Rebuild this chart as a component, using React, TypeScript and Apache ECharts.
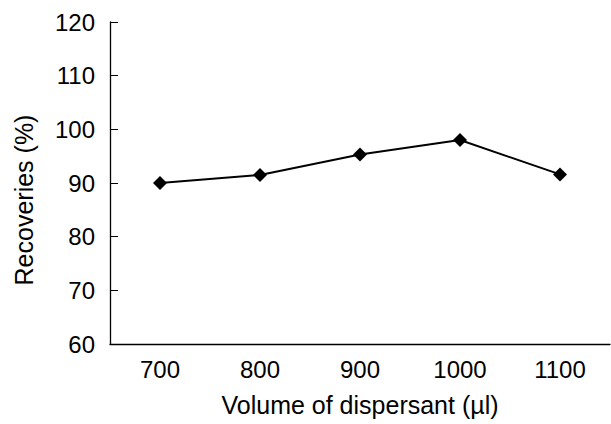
import React, { useEffect, useRef } from "react";
import * as echarts from "echarts";

const categories = ["700", "800", "900", "1000", "1100"];
const recoveries = [90.0, 91.5, 95.3, 98.0, 91.6];
const xName = "Volume of dispersant (µl)";
const yName = "Recoveries (%)";

export default function App() {
  const ref = useRef<HTMLDivElement>(null);
  useEffect(() => {
    if (!ref.current) return;
    const chart = echarts.init(ref.current, null, { renderer: "svg" });
    const font = "Liberation Sans, Arial, sans-serif";
    chart.setOption({
      animation: false,
      backgroundColor: "#fff",
      grid: { left: 110, right: 1, top: 22, bottom: 80, containLabel: false },
      xAxis: {
        type: "category",
        data: categories,
        boundaryGap: true,
        name: xName,
        nameLocation: "middle",
        nameGap: 48,
        nameTextStyle: { fontFamily: font, fontSize: 25, color: "#000" },
        axisLine: { lineStyle: { color: "#000", width: 1.3 } },
        axisTick: { inside: true, length: 8, alignWithLabel: false, lineStyle: { color: "#000" } },
        axisLabel: { fontFamily: font, fontSize: 24, color: "#000", margin: 13 },
        splitLine: { show: false },
      },
      yAxis: {
        type: "value",
        min: 60,
        max: 120,
        interval: 10,
        name: yName,
        nameLocation: "middle",
        nameGap: 74,
        nameRotate: 90,
        nameTextStyle: { fontFamily: font, fontSize: 25, color: "#000", padding: [0, 34, 0, 0] },
        axisLine: { show: true, lineStyle: { color: "#000", width: 1.3 } },
        axisTick: { show: true, inside: true, length: 8, lineStyle: { color: "#000" } },
        axisLabel: { fontFamily: font, fontSize: 24, color: "#000", margin: 15 },
        splitLine: { show: false },
      },
      series: [
        {
          type: "line",
          data: recoveries,
          symbol: "diamond",
          symbolSize: 14,
          itemStyle: { color: "#000" },
          lineStyle: { color: "#000", width: 2 },
        },
      ],
    });
    return () => chart.dispose();
  }, []);
  return <div ref={ref} style={{ width: 611, height: 424, position: "absolute", left: 0, top: 0 }} />;
}
